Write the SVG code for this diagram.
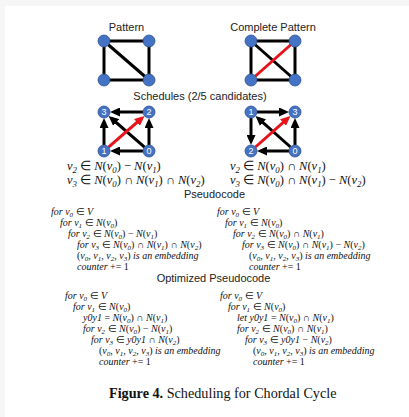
<svg xmlns="http://www.w3.org/2000/svg" width="409" height="417" viewBox="0 0 409 417">
<defs>
<style>
.lbl{font-family:"Liberation Sans",Arial,sans-serif;font-size:11px;fill:#222;text-anchor:middle}
.e{stroke:#000;stroke-width:3;fill:none}
.r{stroke:#e8141b;stroke-width:3;fill:none}
.a{stroke:#000;stroke-width:3;fill:none;marker-end:url(#ab)}
.ar{stroke:#e8141b;stroke-width:3;fill:none;marker-end:url(#ar)}
.n{fill:#4472c4;stroke:#2f528f;stroke-width:0.8}
.nt{font-family:"Liberation Sans",Arial,sans-serif;font-size:9px;fill:#fff;text-anchor:middle}
.m{font-family:"Liberation Serif","Times New Roman",serif;font-style:italic;font-size:12.5px;fill:#111}
.p{font-family:"Liberation Serif","Times New Roman",serif;font-style:italic;font-size:10px;fill:#111}
.u{font-style:normal}
.s{font-size:70%}
.cap{font-family:"Liberation Serif","Times New Roman",serif;font-size:14.2px;fill:#111}
</style>
<marker id="ab" markerUnits="userSpaceOnUse" markerWidth="10" markerHeight="9" refX="6" refY="4.5" orient="auto"><path d="M0,0 L10,4.5 L0,9 z" fill="#000"/></marker>
<marker id="ar" markerUnits="userSpaceOnUse" markerWidth="10" markerHeight="9" refX="6" refY="4.5" orient="auto"><path d="M0,0 L10,4.5 L0,9 z" fill="#e8141b"/></marker>
</defs>
<rect width="409" height="417" fill="#f6f6f6"/>
<rect x="5" y="6" width="404" height="411" fill="#fff"/>

<g id="labels">
<text class="lbl" x="126.5" y="31">Pattern</text>
<text class="lbl" x="273" y="31">Complete Pattern</text>
<text class="lbl" x="200" y="100">Schedules (2/5 candidates)</text>
<text class="lbl" x="214.5" y="198">Pseudocode</text>
<text class="lbl" x="213.5" y="282">Optimized Pseudocode</text>
</g>

<g id="connectors">
<line class="e" x1="104" y1="41" x2="149" y2="41"/>
<line class="e" x1="104" y1="41" x2="104" y2="80"/>
<line class="e" x1="149" y1="41" x2="149" y2="80"/>
<line class="e" x1="104" y1="80" x2="149" y2="80"/>
<line class="e" x1="104" y1="41" x2="149" y2="80"/>
<line class="e" x1="251" y1="41" x2="295" y2="41"/>
<line class="e" x1="251" y1="41" x2="251" y2="80"/>
<line class="e" x1="295" y1="41" x2="295" y2="80"/>
<line class="e" x1="251" y1="80" x2="295" y2="80"/>
<line class="e" x1="251" y1="41" x2="295" y2="80"/>
<line class="r" x1="251" y1="80" x2="295" y2="41"/>
<line class="a" x1="104" y1="145" x2="104" y2="122"/>
<line class="a" x1="143" y1="112" x2="114" y2="112"/>
<line class="a" x1="149" y1="145" x2="149" y2="122"/>
<line class="a" x1="143" y1="151" x2="114" y2="151"/>
<line class="a" x1="144.5" y1="147.1" x2="111.6" y2="118.5"/>
<line class="ar" x1="108.5" y1="147.1" x2="141.5" y2="118.5"/>
<line class="a" x1="257" y1="112" x2="285" y2="112"/>
<line class="a" x1="251" y1="118" x2="251" y2="141"/>
<line class="a" x1="295" y1="145" x2="295" y2="122"/>
<line class="a" x1="289" y1="151" x2="261" y2="151"/>
<line class="a" x1="290.5" y1="147" x2="258.5" y2="118.6"/>
<line class="ar" x1="255.5" y1="147" x2="287.5" y2="118.6"/>
</g>

<g id="pattern-nodes">
<circle class="n" cx="104" cy="41" r="6"/>
<circle class="n" cx="149" cy="41" r="6"/>
<circle class="n" cx="104" cy="80" r="6"/>
<circle class="n" cx="149" cy="80" r="6"/>
</g>
<g id="complete-nodes">
<circle class="n" cx="251" cy="41" r="6"/>
<circle class="n" cx="295" cy="41" r="6"/>
<circle class="n" cx="251" cy="80" r="6"/>
<circle class="n" cx="295" cy="80" r="6"/>
</g>
<g id="s1-n3"><circle class="n" cx="104" cy="112" r="6"/><text class="nt" x="104" y="115.2">3</text></g>
<g id="s1-n2"><circle class="n" cx="149" cy="112" r="6"/><text class="nt" x="149" y="115.2">2</text></g>
<g id="s1-n1"><circle class="n" cx="104" cy="151" r="6"/><text class="nt" x="104" y="154.2">1</text></g>
<g id="s1-n0"><circle class="n" cx="149" cy="151" r="6"/><text class="nt" x="149" y="154.2">0</text></g>
<g id="s2-n1"><circle class="n" cx="251" cy="112" r="6"/><text class="nt" x="251" y="115.2">1</text></g>
<g id="s2-n3"><circle class="n" cx="295" cy="112" r="6"/><text class="nt" x="295" y="115.2">3</text></g>
<g id="s2-n2"><circle class="n" cx="251" cy="151" r="6"/><text class="nt" x="251" y="154.2">2</text></g>
<g id="s2-n0"><circle class="n" cx="295" cy="151" r="6"/><text class="nt" x="295" y="154.2">0</text></g>

<g id="equations">
<text class="m" x="67" y="170">v<tspan class="s" dy="2.5">2</tspan><tspan class="u" dy="-2.5"> ∈ </tspan>N<tspan class="u">(</tspan>v<tspan class="s" dy="2.5">0</tspan><tspan class="u" dy="-2.5">) − </tspan>N<tspan class="u">(</tspan>v<tspan class="s" dy="2.5">1</tspan><tspan class="u" dy="-2.5">)</tspan></text>
<text class="m" x="67" y="184">v<tspan class="s" dy="2.5">3</tspan><tspan class="u" dy="-2.5"> ∈ </tspan>N<tspan class="u">(</tspan>v<tspan class="s" dy="2.5">0</tspan><tspan class="u" dy="-2.5">) ∩ </tspan>N<tspan class="u">(</tspan>v<tspan class="s" dy="2.5">1</tspan><tspan class="u" dy="-2.5">) ∩ </tspan>N<tspan class="u">(</tspan>v<tspan class="s" dy="2.5">2</tspan><tspan class="u" dy="-2.5">)</tspan></text>
<text class="m" x="230" y="170">v<tspan class="s" dy="2.5">2</tspan><tspan class="u" dy="-2.5"> ∈ </tspan>N<tspan class="u">(</tspan>v<tspan class="s" dy="2.5">0</tspan><tspan class="u" dy="-2.5">) ∩ </tspan>N<tspan class="u">(</tspan>v<tspan class="s" dy="2.5">1</tspan><tspan class="u" dy="-2.5">)</tspan></text>
<text class="m" x="230" y="184">v<tspan class="s" dy="2.5">3</tspan><tspan class="u" dy="-2.5"> ∈ </tspan>N<tspan class="u">(</tspan>v<tspan class="s" dy="2.5">0</tspan><tspan class="u" dy="-2.5">) ∩ </tspan>N<tspan class="u">(</tspan>v<tspan class="s" dy="2.5">1</tspan><tspan class="u" dy="-2.5">) − </tspan>N<tspan class="u">(</tspan>v<tspan class="s" dy="2.5">2</tspan><tspan class="u" dy="-2.5">)</tspan></text>
</g>

<g id="pseudocode-left">
<text class="p" x="51" y="215">for v<tspan class="s" dy="2">0</tspan><tspan class="u" dy="-2"> ∈ </tspan>V</text>
<text class="p" x="60" y="226">for v<tspan class="s" dy="2">1</tspan><tspan class="u" dy="-2"> ∈ </tspan>N<tspan class="u">(</tspan>v<tspan class="s" dy="2">0</tspan><tspan class="u" dy="-2">)</tspan></text>
<text class="p" x="68" y="237">for v<tspan class="s" dy="2">2</tspan><tspan class="u" dy="-2"> ∈ </tspan>N<tspan class="u">(</tspan>v<tspan class="s" dy="2">0</tspan><tspan class="u" dy="-2">) − </tspan>N<tspan class="u">(</tspan>v<tspan class="s" dy="2">1</tspan><tspan class="u" dy="-2">)</tspan></text>
<text class="p" x="77" y="248">for v<tspan class="s" dy="2">3</tspan><tspan class="u" dy="-2"> ∈ </tspan>N<tspan class="u">(</tspan>v<tspan class="s" dy="2">0</tspan><tspan class="u" dy="-2">) ∩ </tspan>N<tspan class="u">(</tspan>v<tspan class="s" dy="2">1</tspan><tspan class="u" dy="-2">) ∩ </tspan>N<tspan class="u">(</tspan>v<tspan class="s" dy="2">2</tspan><tspan class="u" dy="-2">)</tspan></text>
<text class="p" x="77" y="259"><tspan class="u">(</tspan>v<tspan class="s" dy="2">0</tspan><tspan dy="-2">, v</tspan><tspan class="s" dy="2">1</tspan><tspan dy="-2">, v</tspan><tspan class="s" dy="2">2</tspan><tspan dy="-2">, v</tspan><tspan class="s" dy="2">3</tspan><tspan class="u" dy="-2">)</tspan> is an embedding</text>
<text class="p" x="77" y="270">counter <tspan class="u">+= 1</tspan></text>
</g>

<g id="pseudocode-right">
<text class="p" x="217" y="215">for v<tspan class="s" dy="2">0</tspan><tspan class="u" dy="-2"> ∈ </tspan>V</text>
<text class="p" x="225" y="226">for v<tspan class="s" dy="2">1</tspan><tspan class="u" dy="-2"> ∈ </tspan>N<tspan class="u">(</tspan>v<tspan class="s" dy="2">0</tspan><tspan class="u" dy="-2">)</tspan></text>
<text class="p" x="233" y="237">for v<tspan class="s" dy="2">2</tspan><tspan class="u" dy="-2"> ∈ </tspan>N<tspan class="u">(</tspan>v<tspan class="s" dy="2">0</tspan><tspan class="u" dy="-2">) ∩ </tspan>N<tspan class="u">(</tspan>v<tspan class="s" dy="2">1</tspan><tspan class="u" dy="-2">)</tspan></text>
<text class="p" x="242" y="248">for v<tspan class="s" dy="2">3</tspan><tspan class="u" dy="-2"> ∈ </tspan>N<tspan class="u">(</tspan>v<tspan class="s" dy="2">0</tspan><tspan class="u" dy="-2">) ∩ </tspan>N<tspan class="u">(</tspan>v<tspan class="s" dy="2">1</tspan><tspan class="u" dy="-2">) − </tspan>N<tspan class="u">(</tspan>v<tspan class="s" dy="2">2</tspan><tspan class="u" dy="-2">)</tspan></text>
<text class="p" x="249" y="259"><tspan class="u">(</tspan>v<tspan class="s" dy="2">0</tspan><tspan dy="-2">, v</tspan><tspan class="s" dy="2">1</tspan><tspan dy="-2">, v</tspan><tspan class="s" dy="2">2</tspan><tspan dy="-2">, v</tspan><tspan class="s" dy="2">3</tspan><tspan class="u" dy="-2">)</tspan> is an embedding</text>
<text class="p" x="249" y="270">counter <tspan class="u">+= 1</tspan></text>
</g>

<g id="optimized-left">
<text class="p" x="65" y="299">for v<tspan class="s" dy="2">0</tspan><tspan class="u" dy="-2"> ∈ </tspan>V</text>
<text class="p" x="73" y="310">for v<tspan class="s" dy="2">1</tspan><tspan class="u" dy="-2"> ∈ </tspan>N<tspan class="u">(</tspan>v<tspan class="s" dy="2">0</tspan><tspan class="u" dy="-2">)</tspan></text>
<text class="p" x="83" y="321">y0y1<tspan class="u"> = </tspan>N<tspan class="u">(</tspan>v<tspan class="s" dy="2">0</tspan><tspan class="u" dy="-2">) ∩ </tspan>N<tspan class="u">(</tspan>v<tspan class="s" dy="2">1</tspan><tspan class="u" dy="-2">)</tspan></text>
<text class="p" x="83" y="332">for v<tspan class="s" dy="2">2</tspan><tspan class="u" dy="-2"> ∈ </tspan>N<tspan class="u">(</tspan>v<tspan class="s" dy="2">0</tspan><tspan class="u" dy="-2">) − </tspan>N<tspan class="u">(</tspan>v<tspan class="s" dy="2">1</tspan><tspan class="u" dy="-2">)</tspan></text>
<text class="p" x="91" y="343">for v<tspan class="s" dy="2">3</tspan><tspan class="u" dy="-2"> ∈ </tspan>y0y1<tspan class="u"> ∩ </tspan>N<tspan class="u">(</tspan>v<tspan class="s" dy="2">2</tspan><tspan class="u" dy="-2">)</tspan></text>
<text class="p" x="99" y="354"><tspan class="u">(</tspan>v<tspan class="s" dy="2">0</tspan><tspan dy="-2">, v</tspan><tspan class="s" dy="2">1</tspan><tspan dy="-2">, v</tspan><tspan class="s" dy="2">2</tspan><tspan dy="-2">, v</tspan><tspan class="s" dy="2">3</tspan><tspan class="u" dy="-2">)</tspan> is an embedding</text>
<text class="p" x="99" y="365">counter <tspan class="u">+= 1</tspan></text>
</g>

<g id="optimized-right">
<text class="p" x="220" y="299">for v<tspan class="s" dy="2">0</tspan><tspan class="u" dy="-2"> ∈ </tspan>V</text>
<text class="p" x="228" y="310">for v<tspan class="s" dy="2">1</tspan><tspan class="u" dy="-2"> ∈ </tspan>N<tspan class="u">(</tspan>v<tspan class="s" dy="2">0</tspan><tspan class="u" dy="-2">)</tspan></text>
<text class="p" x="237" y="321">let y0y1<tspan class="u"> = </tspan>N<tspan class="u">(</tspan>v<tspan class="s" dy="2">0</tspan><tspan class="u" dy="-2">) ∩ </tspan>N<tspan class="u">(</tspan>v<tspan class="s" dy="2">1</tspan><tspan class="u" dy="-2">)</tspan></text>
<text class="p" x="237" y="332">for v<tspan class="s" dy="2">2</tspan><tspan class="u" dy="-2"> ∈ </tspan>N<tspan class="u">(</tspan>v<tspan class="s" dy="2">0</tspan><tspan class="u" dy="-2">) ∩ </tspan>N<tspan class="u">(</tspan>v<tspan class="s" dy="2">1</tspan><tspan class="u" dy="-2">)</tspan></text>
<text class="p" x="245" y="343">for v<tspan class="s" dy="2">3</tspan><tspan class="u" dy="-2"> ∈ </tspan>y0y1<tspan class="u"> − </tspan>N<tspan class="u">(</tspan>v<tspan class="s" dy="2">2</tspan><tspan class="u" dy="-2">)</tspan></text>
<text class="p" x="253" y="354"><tspan class="u">(</tspan>v<tspan class="s" dy="2">0</tspan><tspan dy="-2">, v</tspan><tspan class="s" dy="2">1</tspan><tspan dy="-2">, v</tspan><tspan class="s" dy="2">2</tspan><tspan dy="-2">, v</tspan><tspan class="s" dy="2">3</tspan><tspan class="u" dy="-2">)</tspan> is an embedding</text>
<text class="p" x="253" y="365">counter <tspan class="u">+= 1</tspan></text>
</g>

<g id="caption">
<text class="cap" x="109" y="398"><tspan font-weight="bold">Figure 4.</tspan> Scheduling for Chordal Cycle</text>
</g>
</svg>
